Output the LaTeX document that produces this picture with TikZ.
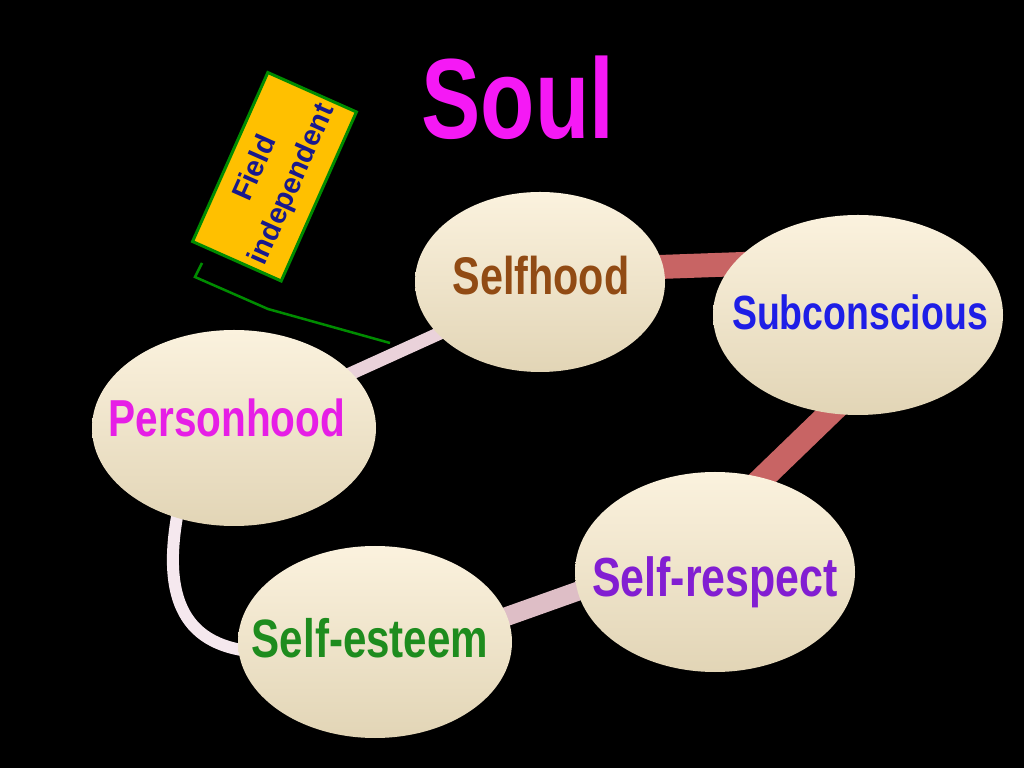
\documentclass[tikz,border=0pt]{standalone}
\usepackage{fontspec}
\newfontfamily\nf[FakeStretch=0.78]{Liberation Sans}
\newfontfamily\nfplain{Liberation Sans}
\usetikzlibrary{shapes.geometric,calc}
\pgfdeclarelayer{bgl}
\pgfdeclarelayer{links}
\pgfsetlayers{bgl,links,main}
\definecolor{creamtop}{RGB}{251,242,222}
\definecolor{creammid}{RGB}{247,236,212}
\definecolor{creambot}{RGB}{226,213,182}
\definecolor{salmon}{RGB}{200,100,100}
\definecolor{pinkband}{RGB}{222,190,198}
\definecolor{lightband}{RGB}{234,210,218}
\definecolor{paleband}{RGB}{245,232,238}
\definecolor{cbrown}{RGB}{145,75,20}
\definecolor{cblue}{RGB}{30,30,230}
\definecolor{cmag}{RGB}{230,30,230}
\definecolor{cpurple}{RGB}{130,30,210}
\definecolor{cgreen}{RGB}{30,140,30}
\definecolor{csoul}{RGB}{245,25,245}
\definecolor{boxfill}{RGB}{255,192,0}
\definecolor{boxline}{RGB}{0,140,0}
\definecolor{navy}{RGB}{25,25,140}
\begin{document}
\begin{tikzpicture}[x=1pt,y=1pt,
  bubble/.style={ellipse, inner sep=0pt, draw=none,
    top color=creamtop, middle color=creammid, bottom color=creambot},
  lbl/.style={anchor=base, inner sep=0pt,
    font={\nf\bfseries\fontsize{#1}{#1}\selectfont}},
  band/.style={line width=#1, line cap=butt},
  fieldbox/.style={draw=boxline, fill=boxfill, line width=3, inner sep=0pt,
    align=center, text=navy, font={\nfplain\bfseries\fontsize{29}{40}\selectfont}},
  brk/.style={draw=boxline, line width=2.5}
]
\begin{pgfonlayer}{bgl}
  \fill[black] (0,0) rectangle (1024,768);
\end{pgfonlayer}
\useasboundingbox (0,0) rectangle (1024,768);

% bubbles
\node[bubble, minimum width=250, minimum height=180] (selfhood) at (540,486) {};
\node[bubble, minimum width=290, minimum height=200] (subcon) at (858,453) {};
\node[bubble, minimum width=284, minimum height=196] (person) at (234,340) {};
\node[bubble, minimum width=280, minimum height=200] (respect) at (715,196) {};
\node[bubble, minimum width=274, minimum height=192] (esteem) at (375,126) {};

% labels
\node[lbl=53, text=cbrown] (tselfhood) at (541,473) {Selfhood};
\node[lbl=48, text=cblue] (tsubcon) at (860,438) {Subconscious};
\node[lbl=52, text=cmag] (tperson) at (227,331) {Personhood};
\node[lbl=55, text=cpurple] (trespect) at (715,171) {Self-respect};
\node[lbl=54, text=cgreen] (testeem) at (370,111) {Self-esteem};
\node[lbl=114, text=csoul] (soul) at (518,629) {Soul};

% connectors
\begin{pgfonlayer}{links}
  \draw[band=24, draw=salmon]
    ($(selfhood.7)!-18pt!(subcon.158)$) -- ($(subcon.158)!-18pt!(selfhood.7)$);
  \draw[band=24, draw=salmon]
    ($(subcon.254)!-18pt!(respect.63)$) -- ($(respect.63)!-18pt!(subcon.254)$);
  \draw[band=19, draw=pinkband]
    ($(respect.188)!-18pt!(esteem.11)$) -- ($(esteem.11)!-18pt!(respect.188)$);
  \draw[band=13, draw=lightband]
    ($(person.25)!-18pt!(selfhood.207)$) -- ($(selfhood.207)!-18pt!(person.25)$);
  \draw[band=12, draw=paleband]
    ([shift={(-55,20)}]person.south) .. controls (160,168) and (185,120) ..
    ([shift={(22,-10)}]esteem.west);
\end{pgfonlayer}

% field independent box
\node[fieldbox, rotate=66, minimum width=185, minimum height=97] (field)
  at (274.5,591.25) {Field\\independent};
\coordinate (b1) at (202,505);
\coordinate (b2) at (195,491);
\coordinate (b3) at (268,459);
\coordinate (b4) at (390,425);
\draw[brk] (b1) -- (b2) -- (b3) -- (b4);
\end{tikzpicture}
\end{document}
